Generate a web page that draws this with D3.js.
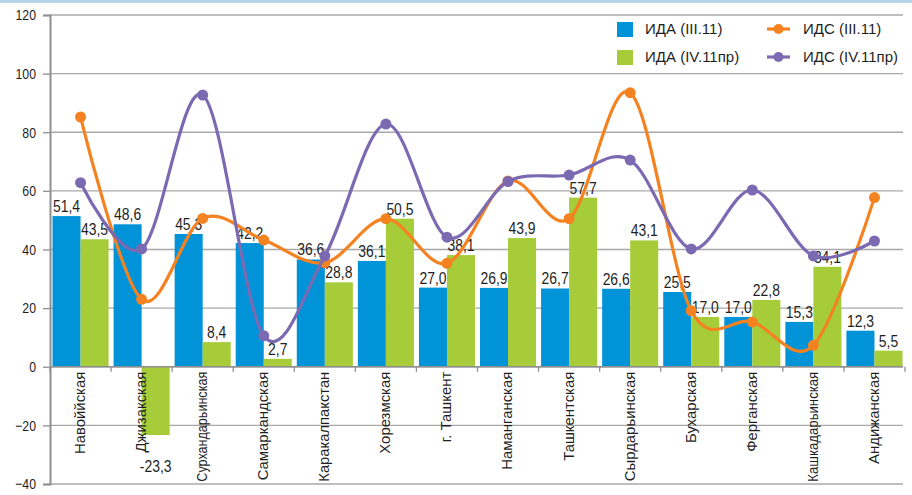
<!DOCTYPE html>
<html>
<head>
<meta charset="utf-8">
<script src="https://cdn.jsdelivr.net/npm/d3@7"></script>
<style>
  body { margin: 0; background: #fff; }
  svg text { font-family: "Liberation Sans", Arial, sans-serif; fill: #1f1f1f; }
</style>
</head>
<body>
<svg id="chart" width="912" height="495"></svg>
<script>
// Regions of Uzbekistan
const regions = ["Навоййская", "Джизакская", "Сурхандарьинская", "Самаркандская", "Каракалпакстан",
  "Хорезмская", "г. Ташкент", "Наманганская", "Ташкентская", "Сырдарьинская", "Бухарская",
  "Ферганская", "Кашкадарьинская", "Андижанская"];

// ИДА — bars
const idaIII = [51.4, 48.6, 45.3, 42.2, 36.6, 36.1, 27.0, 26.9, 26.7, 26.6, 25.5, 17.0, 15.3, 12.3];
const idaIV  = [43.5, -23.3, 8.4, 2.7, 28.8, 50.5, 38.1, 43.9, 57.7, 43.1, 17.0, 22.8, 34.1, 5.5];

// ИДС — smoothed lines
const idsIII = [85.2, 23.0, 50.6, 43.2, 35.5, 50.5, 35.3, 63.4, 50.5, 93.5, 19.1, 15.3, 7.3, 57.7];
const idsIV  = [62.8, 40.2, 92.7, 10.6, 37.8, 82.8, 44.2, 63.2, 65.4, 70.5, 40.2, 60.3, 37.8, 42.9];

const yTicks = [-40, -20, 0, 20, 40, 60, 80, 100, 120];
const seriesNames = ["ИДА (III.11)", "ИДА (IV.11пр)", "ИДС (III.11)", "ИДС (IV.11пр)"];

const colors = { blue: "#0093d8", green: "#a6cd39", orange: "#f58220", purple: "#7b6ab2" };
const fmt = v => v.toFixed(1).replace(".", ",");

// lettering with a horizontal squeeze along the text direction;
// maxLen (optional) narrows a text further so it never exceeds that length
function place(sel, fx, fy, { size, squeeze, rot = 0, maxLen = Infinity }) {
  sel.attr("font-size", size).each(function (d, i) {
    const len = this.getComputedTextLength();
    const s = Math.min(squeeze, maxLen / len);
    d3.select(this).attr("transform",
      `translate(${fx(d, i)},${fy(d, i)})${rot ? ` rotate(${rot})` : ""} scale(${s},1)`);
  });
  return sel;
}

const svg = d3.select("#chart");
const left = 50, right = 905, gridRight = 903;

const x = d3.scaleBand().domain(regions).range([left, right]).padding(0);
const sub = d3.scaleBand().domain([0, 1]).range([2.5, x.bandwidth() - 2.5]).padding(0);
const y = d3.scaleLinear().domain([-40, 120]).range([484, 15]);
const cx = d => x(d) + x.bandwidth() / 2;

// frame accent on top
svg.append("rect").attr("x", 0).attr("y", 0).attr("width", 912).attr("height", 3).attr("fill", "#b5d6ea");

// horizontal gridlines
svg.append("g").selectAll("line").data(yTicks).join("line")
  .attr("x1", left).attr("x2", gridRight)
  .attr("y1", d => y(d)).attr("y2", d => y(d))
  .attr("stroke", "#a8a8a8").attr("stroke-width", 1.3);

// left value axis (line and ticks from d3.axisLeft, labels drawn narrow)
const yAxis = d3.axisLeft(y).tickValues(yTicks).tickSize(7).tickFormat("");
const gy = svg.append("g").attr("transform", `translate(${left},0)`).call(yAxis);
gy.select(".domain").attr("stroke", "#8f8f8f").attr("stroke-width", 2);
gy.selectAll(".tick line").attr("stroke", "#8f8f8f").attr("stroke-width", 1.3);
place(svg.append("g").selectAll("text").data(yTicks).join("text")
    .attr("text-anchor", "end").attr("dy", "0.35em").text(d => d3.format("d")(d)),
  () => left - 14, d => y(d), { size: 15, squeeze: 0.82 });

// bars
const barData = [];
regions.forEach((r, i) => {
  barData.push({ r, k: 0, v: idaIII[i], c: colors.blue });
  barData.push({ r, k: 1, v: idaIV[i], c: colors.green });
});
svg.append("g").selectAll("rect").data(barData).join("rect")
  .attr("x", d => x(d.r) + sub(d.k))
  .attr("width", sub.bandwidth())
  .attr("y", d => y(Math.max(0, d.v)))
  .attr("height", d => Math.abs(y(d.v) - y(0)))
  .attr("fill", d => d.c);

// category axis on zero line
svg.append("line").attr("x1", left).attr("x2", gridRight).attr("y1", y(0)).attr("y2", y(0))
  .attr("stroke", "#8f8f8f").attr("stroke-width", 1.5);
svg.append("g").selectAll("line").data(regions.concat(["_end"])).join("line")
  .attr("x1", (d, i) => left + i * x.bandwidth()).attr("x2", (d, i) => left + i * x.bandwidth())
  .attr("y1", y(0)).attr("y2", y(0) + 5)
  .attr("stroke", "#8f8f8f").attr("stroke-width", 1.3);

// bar value labels
place(svg.append("g").selectAll("text").data(barData).join("text")
    .attr("text-anchor", "middle").text(d => fmt(d.v)),
  d => x(d.r) + sub(d.k) + sub.bandwidth() / 2,
  d => d.v >= 0 ? y(d.v) - 4 : y(d.v) + 37,
  { size: 16, squeeze: 0.87 });

// category labels
place(svg.append("g").selectAll("text").data(regions).join("text")
    .attr("text-anchor", "end").attr("dy", "0.35em").text(d => d),
  d => cx(d) - 1, () => y(0) + 5,
  { size: 15.5, squeeze: 0.96, rot: -90, maxLen: 110 });

// smoothed lines with markers
const line = d3.line().x(d => cx(d.r)).y(d => y(d.v)).curve(d3.curveCatmullRom.alpha(0));
[[idsIII, colors.orange], [idsIV, colors.purple]].forEach(([vals, col]) => {
  const pts = regions.map((r, i) => ({ r, v: vals[i] }));
  svg.append("path").datum(pts).attr("d", line)
    .attr("fill", "none").attr("stroke", col).attr("stroke-width", 3.2);
  svg.append("g").selectAll("circle").data(pts).join("circle")
    .attr("cx", d => cx(d.r)).attr("cy", d => y(d.v)).attr("r", 5.5).attr("fill", col);
});

// legend
const lg = svg.append("g");
lg.append("rect").attr("x", 600).attr("y", y(120) + 1).attr("width", gridRight - 600)
  .attr("height", y(100) - y(120) - 2).attr("fill", "#fff");
const legendItems = [
  { name: seriesNames[0], c: colors.blue, type: "bar", col: 0, row: 0 },
  { name: seriesNames[1], c: colors.green, type: "bar", col: 0, row: 1 },
  { name: seriesNames[2], c: colors.orange, type: "line", col: 1, row: 0 },
  { name: seriesNames[3], c: colors.purple, type: "line", col: 1, row: 1 }
];
legendItems.forEach(it => {
  const gx = 617 + it.col * 150, gyc = 29 + it.row * 28;
  const g = lg.append("g").attr("transform", `translate(${gx},${gyc})`);
  if (it.type === "bar") {
    g.append("rect").attr("x", 0).attr("y", -7).attr("width", 16).attr("height", 15).attr("fill", it.c);
  } else {
    g.append("line").attr("x1", 0).attr("x2", 23).attr("y1", 0).attr("y2", 0).attr("stroke", it.c).attr("stroke-width", 3.2);
    g.append("circle").attr("cx", 11.5).attr("cy", 0).attr("r", 5).attr("fill", it.c);
  }
  place(g.append("text").attr("dy", "0.35em").text(it.name),
    () => (it.type === "bar" ? 28 : 36), () => 0, { size: 15.5, squeeze: 0.97 });
});
</script>
</body>
</html>
